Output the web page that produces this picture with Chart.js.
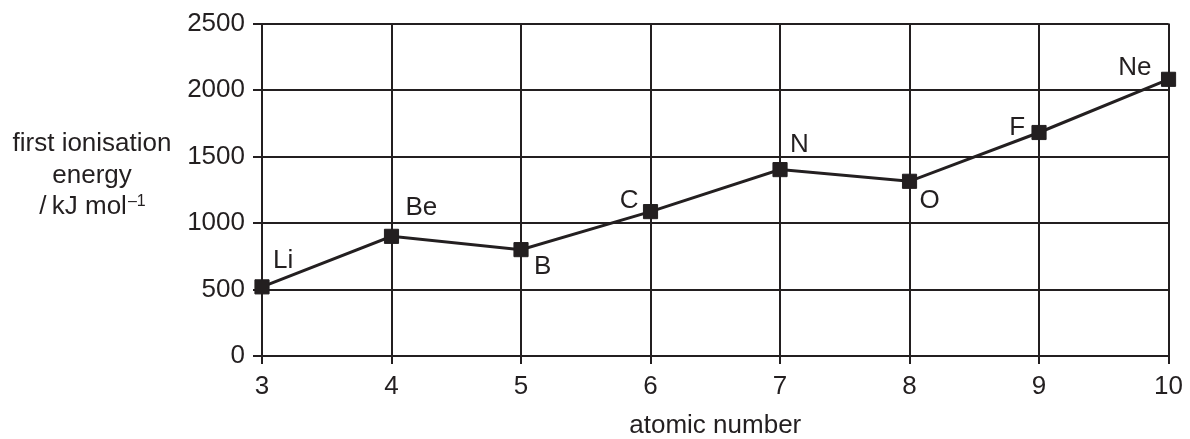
<!DOCTYPE html>
<html lang="en">
<head>
  <meta charset="UTF-8" />
  <title>First ionisation energy</title>
  <script src="https://cdn.jsdelivr.net/npm/chart.js"></script>
  <style>
    html, body {
      margin: 0;
      padding: 0;
      background: #ffffff;
    }
    #wrap {
      width: 1190px;
      height: 439px;
    }
  </style>
</head>
<body>
  <div id="wrap"><canvas id="ieChart" width="1190" height="439"></canvas></div>

  <script>
    // values
    const atomicNumbers = [3, 4, 5, 6, 7, 8, 9, 10];
    const elements = ["Li", "Be", "B", "C", "N", "O", "F", "Ne"];
    const energies = [520, 900, 800, 1086, 1402, 1314, 1681, 2081];
    const yTicks = [0, 500, 1000, 1500, 2000, 2500];
    const yTitle = ["first ionisation", "energy", "/\u2009kJ mol"];
    const yTitleSup = "\u20131";
    const xTitle = "atomic number";

    const ink = "#231f20";
    const fontFamily = "'Liberation Sans', Arial, sans-serif";

    // where each element symbol sits relative to its point: [dx, dy, align]
    const labelPlace = {
      Li: [11, -19, "left"],
      Be: [14, -21, "left"],
      B: [13, 24, "left"],
      C: [-12, -4, "right"],
      N: [10, -18, "left"],
      O: [10, 27, "left"],
      F: [-14, 3, "right"],
      Ne: [-17, -4, "right"]
    };

    const labelsPlugin = {
      id: "extraText",
      afterDraw(chart) {
        const ctx = chart.ctx;
        const xs = chart.scales.x;
        const ys = chart.scales.y;
        ctx.save();
        ctx.fillStyle = ink;
        ctx.textBaseline = "alphabetic";

        // element symbols next to points
        ctx.font = "26px " + fontFamily;
        elements.forEach((el, i) => {
          const p = labelPlace[el];
          ctx.textAlign = p[2];
          ctx.fillText(el, xs.getPixelForValue(atomicNumbers[i]) + p[0],
            ys.getPixelForValue(energies[i]) + p[1]);
        });

        // y axis title, horizontal, three centred lines
        const cx = 92;
        const baselines = [151, 183, 214];
        ctx.textAlign = "center";
        ctx.font = "26px " + fontFamily;
        ctx.fillText(yTitle[0], cx, baselines[0]);
        ctx.fillText(yTitle[1], cx, baselines[1]);
        const mainW = ctx.measureText(yTitle[2]).width;
        ctx.font = "16px " + fontFamily;
        const supW = ctx.measureText(yTitleSup).width;
        const startX = cx - (mainW + supW) / 2;
        ctx.textAlign = "left";
        ctx.font = "26px " + fontFamily;
        ctx.fillText(yTitle[2], startX, baselines[2]);
        ctx.font = "16px " + fontFamily;
        ctx.fillText(yTitleSup, startX + mainW + 1, baselines[2] - 8);
        ctx.restore();
      }
    };

    const ctx = document.getElementById("ieChart").getContext("2d");
    new Chart(ctx, {
      type: "line",
      data: {
        datasets: [{
          data: atomicNumbers.map((n, i) => ({ x: n, y: energies[i] })),
          borderColor: ink,
          borderWidth: 3,
          backgroundColor: ink,
          pointStyle: "rect",
          pointRadius: 10,
          pointBorderWidth: 1,
          pointBackgroundColor: ink,
          pointBorderColor: ink,
          tension: 0,
          fill: false,
          clip: false
        }]
      },
      options: {
        responsive: false,
        animation: false,
        events: [],
        layout: { padding: { top: 21, right: 19, left: 0, bottom: 0 } },
        plugins: {
          legend: { display: false },
          tooltip: { enabled: false }
        },
        scales: {
          x: {
            type: "linear",
            min: 3,
            max: 10,
            afterFit: s => { s.height = 83; },
            afterBuildTicks: s => { s.ticks = atomicNumbers.map(v => ({ value: v })); },
            ticks: {
              color: ink,
              padding: 7,
              font: { family: fontFamily, size: 26 },
              callback: v => String(v)
            },
            grid: { color: ink, lineWidth: 2, tickLength: 8, tickColor: ink },
            border: { display: true, color: ink, width: 2 },
            title: {
              display: true,
              text: xTitle,
              color: ink,
              font: { family: fontFamily, size: 26, lineHeight: 1 },
              padding: { top: 0, bottom: 0 }
            }
          },
          y: {
            type: "linear",
            min: 0,
            max: 2500,
            afterFit: s => { s.width = 262; },
            afterBuildTicks: s => { s.ticks = yTicks.map(v => ({ value: v })); },
            ticks: {
              color: ink,
              padding: 8,
              font: { family: fontFamily, size: 26 },
              callback: v => String(v)
            },
            grid: { color: ink, lineWidth: 2, tickLength: 9, tickColor: ink },
            border: { display: true, color: ink, width: 2 }
          }
        }
      },
      plugins: [labelsPlugin]
    });
  </script>
</body>
</html>
